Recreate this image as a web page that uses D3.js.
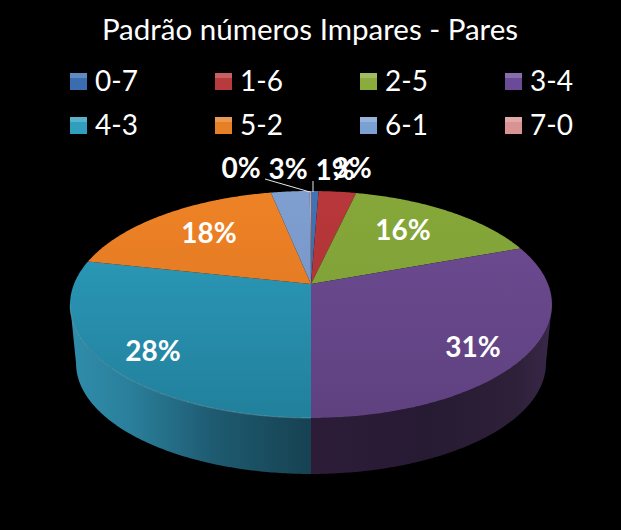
<!DOCTYPE html>
<html>
<head>
<meta charset="utf-8">
<script src="https://cdn.jsdelivr.net/npm/d3@7"></script>
<style>
  html, body { margin: 0; padding: 0; background: #000; }
  text { font-family: Lato, "Open Sans", sans-serif; fill: #fff; }
</style>
</head>
<body>
<svg id="grafico"></svg>
<script>
const titulo = 'Padrão números Impares - Pares';
const categorias = ['0-7', '1-6', '2-5', '3-4', '4-3', '5-2', '6-1', '7-0'];
const valores = [0.6, 3, 15.8, 30.6, 28.4, 18.4, 3.1, 0.1];
const coresTopo = ['#3f74b5', '#b8373a', '#86a83a', '#6e4c93', '#2f9fc0', '#ee8226', '#7f9fd0', '#d99a98'];
const coresBase = ['#34629b', '#a83234', '#7a9a33', '#5f4180', '#21809c', '#d97320', '#7390c0', '#c48a88'];
const coresLegenda = ['#3a6db0', '#b73a3c', '#8bac3c', '#6b4a97', '#2f9fbd', '#e67f25', '#7ba0d2', '#d99392'];
const rotulosPos = [[335, 170], [352, 168], [403, 230], [473, 347], [153, 351], [209, 233], [288, 169], [241, 168]];

const largura = 621, altura = 530;
const svg = d3.select('#grafico').attr('width', largura).attr('height', altura)
    .style('display', 'block');
const defs = svg.append('defs');

// projecao em perspectiva do disco unitario para a tela
const cx = 311, k = 0.1806, A = 237, B = 109.8;
function projecao(u, v, y0, esc) {
    const w = 1 - k * v;
    return [cx + esc * A * u / w, y0 + esc * B * v / w];
}
const yTopo = 284, escBase = 0.975, yBase = 343.3;

const fatias = d3.pie().sort(null).value(d => d)(valores);
const linha = d3.line();

function pontosArco(a0, a1, y0, esc) {
    const n = Math.max(2, Math.ceil((a1 - a0) / 0.01));
    return d3.range(n + 1).map(i => {
        const a = a0 + (a1 - a0) * i / n;
        return projecao(Math.sin(a), -Math.cos(a), y0, esc);
    });
}

// gradientes
function gradiente(id, x1, y1, x2, y2, paradas) {
    const g = defs.append('linearGradient').attr('id', id)
        .attr('gradientUnits', 'userSpaceOnUse')
        .attr('x1', x1).attr('y1', y1).attr('x2', x2).attr('y2', y2);
    paradas.forEach(p => g.append('stop').attr('offset', p[0]).attr('stop-color', p[1]));
}
coresTopo.forEach((c, i) => gradiente('topo' + i, 0, 191, 0, 418, [[0, c], [1, coresBase[i]]]));
gradiente('ladoTeal', 70, 0, 311, 0, [[0, '#2f8dab'], [0.25, '#2a7f9b'], [0.6, '#1e5a70'], [1, '#164252']]);
gradiente('ladoRoxo', 311, 0, 552, 0, [[0, '#2c1c38'], [0.5, '#271a33'], [0.85, '#2e2039'], [1, '#392848']]);

// lateral do disco: so as fatias da frente aparecem
const aDir = Math.PI - Math.acos(k), aEsq = Math.PI + Math.acos(k);
const lados = [
    { ini: aDir, fim: Math.PI, fill: 'url(#ladoRoxo)' },
    { ini: Math.PI, fim: aEsq, fill: 'url(#ladoTeal)' }
];
svg.append('g').selectAll('path').data(lados).join('path')
    .attr('d', d => {
        const cima = pontosArco(d.ini, d.fim, yTopo, 1);
        const baixo = pontosArco(d.ini, d.fim, yBase, escBase).reverse();
        return linha(cima.concat(baixo)) + 'Z';
    })
    .attr('fill', d => d.fill);

// topo
svg.append('g').selectAll('path').data(fatias).join('path')
    .attr('d', d => {
        const pts = [projecao(0, 0, yTopo, 1)].concat(pontosArco(d.startAngle, d.endAngle, yTopo, 1));
        return linha(pts) + 'Z';
    })
    .attr('fill', (d, i) => 'url(#topo' + i + ')');

// brilho da borda frontal, so na fatia 4-3
svg.append('path')
    .attr('d', linha(pontosArco(Math.PI, aEsq, yTopo, 1)))
    .attr('fill', 'none').attr('stroke', '#ffffff').attr('stroke-opacity', 0.22).attr('stroke-width', 1);

// titulo
svg.append('text').attr('x', 310).attr('y', 40).attr('text-anchor', 'middle')
    .style('font-size', '29.5px').text(titulo);

// legenda
const xLeg = d3.scalePoint().domain([0, 1, 2, 3]).range([70, 505]);
const yLeg = d3.scalePoint().domain([0, 1]).range([73, 117]);
const legenda = svg.append('g').selectAll('g').data(categorias).join('g')
    .attr('transform', (d, i) => 'translate(' + xLeg(i % 4) + ',' + yLeg(Math.floor(i / 4)) + ')');
legenda.append('rect').attr('width', 17).attr('height', 17).attr('fill', (d, i) => coresLegenda[i]);
legenda.append('rect').attr('width', 17).attr('height', 5).attr('fill', '#fff').attr('fill-opacity', 0.2);
legenda.append('text').attr('x', 25).attr('y', 18).style('font-size', '28px').text(d => d);

// linhas de chamada
const chamadas = [[[265, 179], [310, 192]], [[313, 181], [313, 192]]];
svg.append('g').selectAll('path').data(chamadas).join('path')
    .attr('d', d => linha(d)).attr('stroke', '#e8e8e8').attr('stroke-width', 1).attr('fill', 'none');

// rotulos
svg.append('g').selectAll('text').data(fatias).join('text')
    .attr('x', (d, i) => rotulosPos[i][0])
    .attr('y', (d, i) => rotulosPos[i][1])
    .attr('dy', '0.35em')
    .attr('text-anchor', 'middle')
    .style('font-size', '28px').style('font-weight', 'bold')
    .text(d => Math.round(d.data) + '%');
</script>
</body>
</html>
